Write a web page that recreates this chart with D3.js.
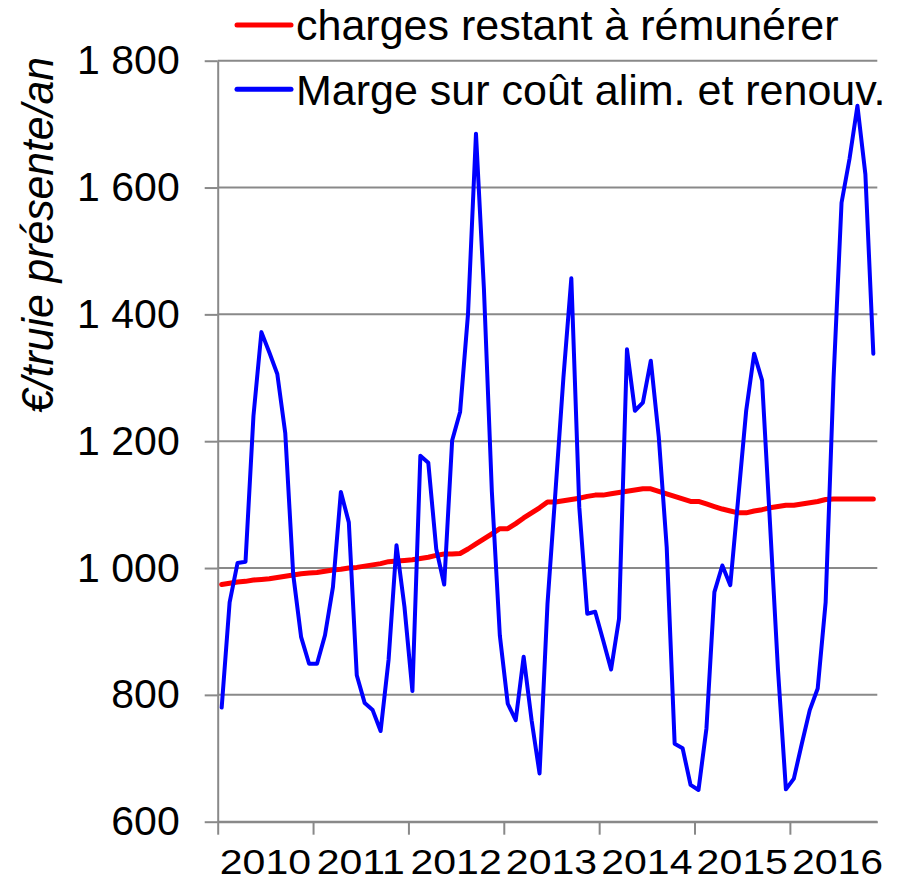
<!DOCTYPE html>
<html>
<head>
<meta charset="utf-8">
<script src="https://cdn.jsdelivr.net/npm/d3@7"></script>
<style>
body { margin: 0; background: #fff; }
svg { display: block; font-family: "Liberation Sans", Arial, sans-serif; }
</style>
</head>
<body>
<svg width="900" height="891"></svg>
<script>
// monthly values, Jan 2010 -> Nov 2016
var years = ["2010", "2011", "2012", "2013", "2014", "2015", "2016"];
var yTicks = [600, 800, 1000, 1200, 1400, 1600, 1800];
var seriesNames = ["charges restant à rémunérer", "Marge sur coût alim. et renouv."];
var seriesColors = ["#ff0000", "#0000ff"];

var charges = [974, 976, 978, 979, 981, 982, 983, 985, 987, 989, 991, 992,
    993, 995, 997, 998, 1000, 1001, 1003, 1005, 1007, 1010, 1011, 1012,
    1013, 1015, 1017, 1020, 1022, 1022, 1023, 1030, 1038, 1046, 1054, 1062,
    1062, 1070, 1079, 1087, 1095, 1104, 1104, 1106, 1108, 1110, 1113, 1115,
    1115, 1117, 1119, 1121, 1123, 1125, 1125, 1121, 1117, 1113, 1109, 1105,
    1105, 1101, 1097, 1093, 1090, 1087, 1087, 1090, 1092, 1095, 1097, 1099,
    1099, 1101, 1103, 1105, 1108, 1109, 1109, 1109, 1109, 1109, 1109];

var marge = [780, 946, 1008, 1010, 1240, 1372, 1340, 1306, 1213, 990, 891, 849,
    849, 894, 970, 1120, 1072, 831, 787, 776, 743, 855, 1036, 939,
    806, 1177, 1166, 1030, 974, 1201, 1246, 1401, 1685, 1440, 1120, 894,
    786, 760, 860, 760, 676, 944, 1120, 1300, 1457, 1096, 928, 931,
    886, 840, 920, 1345, 1248, 1261, 1327, 1207, 1033, 723, 716, 658,
    650, 747, 962, 1004, 973, 1110, 1248, 1338, 1296, 1070, 840, 651,
    668, 723, 776, 810, 946, 1300, 1576, 1645, 1729, 1621, 1338];

var plotLeft = 217.7, plotRight = 877.3, plotTop = 60.7, plotBottom = 821.7;
var grey = "#898989";

var svg = d3.select("svg");

var fr = d3.formatLocale({ decimal: ",", thousands: " ", grouping: [3], currency: ["", " €"] });
var fmt = fr.format(",");

var x = d3.scaleLinear()
    .domain([0, charges.length])
    .range([plotLeft, plotRight]);

var y = d3.scaleLinear()
    .domain([600, 1800])
    .range([plotBottom, plotTop]);

// gridlines
svg.append("g")
    .selectAll("line")
    .data(yTicks)
    .enter().append("line")
    .attr("x1", plotLeft)
    .attr("x2", plotRight)
    .attr("y1", function (d) { return y(d); })
    .attr("y2", function (d) { return y(d); })
    .attr("stroke", grey)
    .attr("stroke-width", 2);

// y axis
var yAxis = d3.axisLeft(y)
    .tickValues(yTicks)
    .tickSize(13)
    .tickSizeOuter(0)
    .tickPadding(25)
    .tickFormat(fmt);

var gy = svg.append("g")
    .attr("transform", "translate(" + plotLeft + ",0)")
    .call(yAxis);
gy.selectAll("path, line").attr("stroke", grey).attr("stroke-width", 2);
gy.selectAll("text")
    .attr("font-size", 41)
    .attr("fill", "#000")
    .attr("font-family", "Liberation Sans, Arial, sans-serif");

// x axis: a tick at the start of each year
var yearStarts = years.map(function (d, i) { return i * 12; });
var xAxis = d3.axisBottom(x)
    .tickValues(yearStarts)
    .tickSize(13)
    .tickSizeOuter(0)
    .tickFormat("");

var gx = svg.append("g")
    .attr("transform", "translate(0," + plotBottom + ")")
    .call(xAxis);
gx.selectAll("path, line").attr("stroke", grey).attr("stroke-width", 2);

// year labels centred on each 12 month band
svg.append("g")
    .selectAll("text")
    .data(years)
    .enter().append("text")
    .attr("transform", function (d, i) {
        return "translate(" + x(i * 12 + 6) + ",874) scale(1,0.84)";
    })
    .attr("text-anchor", "middle")
    .attr("font-size", 41)
    .text(function (d) { return d; });

// y axis title
svg.append("text")
    .attr("transform", "translate(53,235) rotate(-90) scale(0.97,1)")
    .attr("text-anchor", "middle")
    .attr("font-size", 44)
    .attr("font-style", "italic")
    .text("€/truie présente/an");

// lines
var line = d3.line()
    .x(function (d, i) { return x(i + 0.5); })
    .y(function (d) { return y(d); });

var series = [charges, marge];
var widths = [5, 4];

svg.append("g")
    .selectAll("path")
    .data(series)
    .enter().append("path")
    .attr("d", line)
    .attr("fill", "none")
    .attr("stroke", function (d, i) { return seriesColors[i]; })
    .attr("stroke-width", function (d, i) { return widths[i]; })
    .attr("stroke-linejoin", "round")
    .attr("stroke-linecap", "round");

// legend
var legend = svg.append("g")
    .selectAll("g")
    .data(seriesNames)
    .enter().append("g")
    .attr("transform", function (d, i) { return "translate(0," + (25 + i * 64.3) + ")"; });

legend.append("line")
    .attr("x1", 237)
    .attr("x2", 291)
    .attr("stroke", function (d, i) { return seriesColors[i]; })
    .attr("stroke-width", 5)
    .attr("stroke-linecap", "round");

legend.append("text")
    .attr("x", 296)
    .attr("y", 15.4)
    .attr("font-size", 43)
    .text(function (d) { return d; });
</script>
</body>
</html>
